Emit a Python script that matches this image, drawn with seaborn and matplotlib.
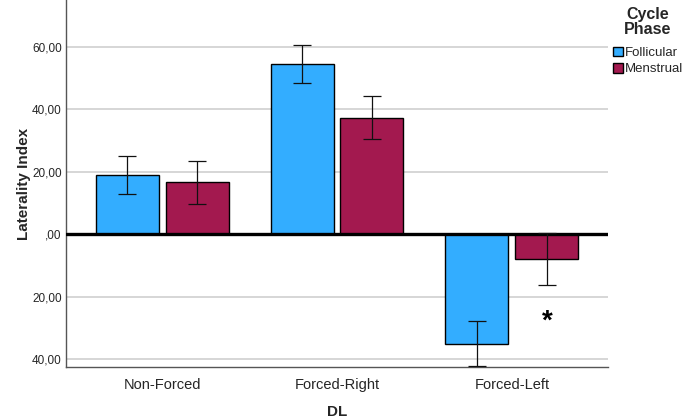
import numpy as np
import pandas as pd
import matplotlib
matplotlib.use("Agg")
import matplotlib.pyplot as plt
import seaborn as sns

categories = ["Non-Forced", "Forced-Right", "Forced-Left"]
phases = ["Follicular", "Menstrual"]
follicular_mean = [19.1, 54.5, -35.0]
follicular_err = [6.1, 6.0, 7.3]
menstrual_mean = [16.6, 37.3, -8.0]
menstrual_err = [6.9, 6.9, 8.4]
ytick_values = [60, 40, 20, 0, -20, -40]
ytick_labels = ["60,00", "40,00", "20,00", ",00", "20,00", "40,00"]
colors = {"Follicular": "#33ADFF", "Menstrual": "#A3194F"}

df = pd.DataFrame({
    "DL": categories * 2,
    "Phase": ["Follicular"] * 3 + ["Menstrual"] * 3,
    "value": follicular_mean + menstrual_mean,
    "err": follicular_err + menstrual_err,
})

sns.set_theme(style="white")
plt.rcParams["font.family"] = ["Liberation Sans", "DejaVu Sans"]

fig = plt.figure(figsize=(6.85, 4.2), dpi=100)
ax = fig.add_axes([66 / 685, 53 / 420, (608 - 66) / 685, 367 / 420])

sns.barplot(data=df, x="DL", y="value", hue="Phase", order=categories,
            hue_order=phases, palette=colors, saturation=1, errorbar=None,
            width=0.8, gap=0.1, edgecolor="black", linewidth=1.0, ax=ax,
            zorder=3, legend=True)

# grid lines
for v in ytick_values:
    if v != 0:
        ax.axhline(v, color="#d0d0d0", lw=1.2, zorder=1)
ax.axhline(0, color="black", lw=2.4, zorder=5)

# error bars
for cont, phase in zip(ax.containers, phases):
    sub = df[df["Phase"] == phase].set_index("DL").loc[categories]
    xs = [p.get_x() + p.get_width() / 2 for p in cont.patches]
    ax.errorbar(xs, sub["value"].values, yerr=sub["err"].values, fmt="none",
                ecolor="#111111", elinewidth=0.9, capsize=6.5, capthick=0.9,
                zorder=6)
    if phase == "Menstrual":
        ax.text(xs[2], -28, "*", ha="center", va="center", fontsize=20,
                fontweight="bold", color="black", zorder=7)

ax.set_ylim(-42.5, 75)
ax.set_xlim(-0.549, 2.549)
ax.set_yticks(ytick_values)
ax.set_yticklabels(ytick_labels, fontsize=8.5)
ax.tick_params(axis="x", labelsize=10.5, length=0, pad=8)
ax.tick_params(axis="y", length=0, pad=3)
ax.set_xlabel("DL", fontsize=11, fontweight="bold", labelpad=9)
ax.set_ylabel("Laterality Index", fontsize=11, fontweight="bold", labelpad=1)

for s in ["top", "right"]:
    ax.spines[s].set_visible(False)
ax.spines["left"].set_color("#555555")
ax.spines["left"].set_linewidth(1.0)
ax.spines["bottom"].set_color("#555555")
ax.spines["bottom"].set_linewidth(1.0)

handles, labels = ax.get_legend_handles_labels()
if ax.legend_:
    ax.legend_.remove()
leg = fig.legend(handles, labels, title="Cycle\nPhase", loc="upper left",
                 bbox_to_anchor=(610 / 685, 0.99), frameon=False,
                 fontsize=9.5, title_fontsize=11.5, handlelength=0.75,
                 handleheight=0.75, handletextpad=0.15, labelspacing=0.3,
                 borderaxespad=0.0, borderpad=0.2)
leg.get_title().set_fontweight("bold")
leg.get_title().set_multialignment("center")
leg.get_title().set_linespacing(1.0)
leg._legend_box.sep = 7

fig.savefig("out.png", dpi=100)
